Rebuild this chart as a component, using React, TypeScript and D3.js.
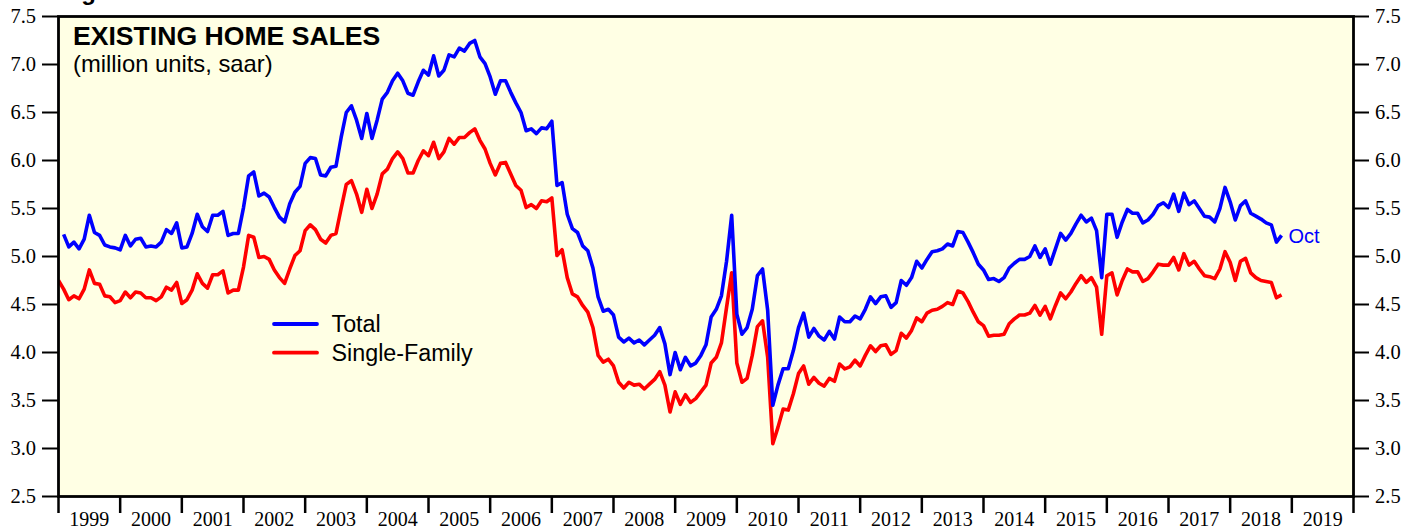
import React from "react";
import * as d3 from "d3";

// ---------- DATA ----------
// Existing home sales, million units, saar. Monthly, Jan 1999 .. Oct 2018
const totalSales: number[] = [
  5.23, 5.10, 5.15, 5.08, 5.18, 5.43, 5.25, 5.22, 5.12, 5.10, 5.09, 5.07, // 1999
  5.22, 5.11, 5.18, 5.19, 5.10, 5.11, 5.10, 5.15, 5.28, 5.24, 5.35, 5.09, // 2000
  5.10, 5.24, 5.44, 5.31, 5.26, 5.43, 5.43, 5.47, 5.22, 5.24, 5.24, 5.51, // 2001
  5.84, 5.88, 5.63, 5.66, 5.62, 5.51, 5.41, 5.36, 5.55, 5.67, 5.73, 5.97, // 2002
  6.03, 6.02, 5.85, 5.84, 5.93, 5.94, 6.24, 6.50, 6.57, 6.42, 6.23, 6.49, // 2003
  6.23, 6.42, 6.64, 6.71, 6.83, 6.91, 6.83, 6.70, 6.68, 6.82, 6.94, 6.89, // 2004
  7.09, 6.88, 6.94, 7.10, 7.08, 7.17, 7.14, 7.22, 7.25, 7.08, 7.01, 6.87, // 2005
  6.69, 6.83, 6.83, 6.71, 6.60, 6.50, 6.31, 6.33, 6.28, 6.34, 6.33, 6.41, // 2006
  5.74, 5.77, 5.44, 5.29, 5.25, 5.11, 5.06, 4.88, 4.58, 4.43, 4.45, 4.39, // 2007
  4.16, 4.11, 4.15, 4.10, 4.13, 4.08, 4.13, 4.18, 4.26, 4.09, 3.77, 4.00, // 2008
  3.82, 3.95, 3.86, 3.89, 3.97, 4.08, 4.37, 4.45, 4.59, 4.95, 5.43, 4.40, // 2009
  4.19, 4.26, 4.45, 4.80, 4.87, 4.44, 3.45, 3.66, 3.83, 3.83, 4.02, 4.26, // 2010
  4.41, 4.16, 4.25, 4.17, 4.13, 4.22, 4.14, 4.37, 4.32, 4.32, 4.38, 4.35, // 2011
  4.45, 4.58, 4.51, 4.58, 4.59, 4.47, 4.52, 4.75, 4.70, 4.78, 4.95, 4.88, // 2012
  4.97, 5.05, 5.06, 5.08, 5.13, 5.11, 5.26, 5.25, 5.15, 5.04, 4.92, 4.86, // 2013
  4.76, 4.77, 4.74, 4.78, 4.88, 4.93, 4.97, 4.97, 5.00, 5.11, 4.99, 5.08, // 2014
  4.92, 5.08, 5.24, 5.17, 5.24, 5.34, 5.43, 5.36, 5.40, 5.27, 4.78, 5.44, // 2015
  5.44, 5.20, 5.36, 5.49, 5.45, 5.45, 5.35, 5.38, 5.44, 5.53, 5.56, 5.51, // 2016
  5.65, 5.47, 5.66, 5.54, 5.58, 5.50, 5.42, 5.41, 5.36, 5.50, 5.72, 5.57, // 2017
  5.38, 5.53, 5.58, 5.45, 5.42, 5.39, 5.35, 5.33, 5.15, 5.22,             // 2018
];

// Single-family, monthly, Dec 1998 .. Oct 2018
const singleFamily: number[] = [
  4.75, // Dec 1998
  4.66, 4.55, 4.59, 4.56, 4.66, 4.86, 4.72, 4.71, 4.59, 4.58, 4.52, 4.54, // 1999
  4.63, 4.57, 4.63, 4.62, 4.57, 4.57, 4.54, 4.58, 4.68, 4.65, 4.73, 4.51, // 2000
  4.55, 4.65, 4.82, 4.72, 4.67, 4.81, 4.81, 4.85, 4.62, 4.65, 4.65, 4.89, // 2001
  5.22, 5.20, 4.99, 5.00, 4.97, 4.86, 4.78, 4.72, 4.87, 5.01, 5.06, 5.27, // 2002
  5.33, 5.28, 5.18, 5.14, 5.22, 5.24, 5.50, 5.75, 5.79, 5.65, 5.46, 5.70, // 2003
  5.50, 5.65, 5.86, 5.91, 6.02, 6.09, 6.02, 5.87, 5.87, 6.00, 6.10, 6.05, // 2004
  6.19, 6.02, 6.09, 6.23, 6.17, 6.24, 6.24, 6.29, 6.33, 6.21, 6.12, 5.97, // 2005
  5.85, 5.97, 5.98, 5.86, 5.74, 5.69, 5.51, 5.54, 5.50, 5.58, 5.57, 5.61, // 2006
  5.01, 5.07, 4.78, 4.61, 4.58, 4.49, 4.42, 4.26, 3.97, 3.90, 3.93, 3.86, // 2007
  3.69, 3.63, 3.69, 3.66, 3.67, 3.62, 3.67, 3.72, 3.80, 3.66, 3.38, 3.59, // 2008
  3.46, 3.56, 3.48, 3.52, 3.59, 3.66, 3.89, 3.95, 4.10, 4.47, 4.83, 3.89, // 2009
  3.69, 3.73, 3.97, 4.27, 4.33, 3.95, 3.05, 3.22, 3.41, 3.40, 3.57, 3.78, // 2010
  3.86, 3.67, 3.74, 3.68, 3.65, 3.73, 3.70, 3.88, 3.83, 3.85, 3.92, 3.86, // 2011
  3.97, 4.07, 4.01, 4.07, 4.08, 3.98, 4.02, 4.20, 4.15, 4.23, 4.36, 4.32, // 2012
  4.41, 4.44, 4.45, 4.48, 4.52, 4.50, 4.64, 4.62, 4.53, 4.42, 4.32, 4.28, // 2013
  4.17, 4.18, 4.18, 4.19, 4.30, 4.35, 4.39, 4.39, 4.41, 4.49, 4.39, 4.48, // 2014
  4.35, 4.49, 4.62, 4.56, 4.63, 4.72, 4.80, 4.73, 4.78, 4.68, 4.19, 4.80, // 2015
  4.83, 4.60, 4.75, 4.87, 4.84, 4.84, 4.74, 4.77, 4.84, 4.92, 4.91, 4.91, // 2016
  4.99, 4.86, 5.03, 4.91, 4.95, 4.87, 4.80, 4.79, 4.77, 4.87, 5.05, 4.94, // 2017
  4.75, 4.95, 4.98, 4.83, 4.78, 4.75, 4.74, 4.73, 4.57, 4.60,             // 2018
];

const totalStart = 1999; // first point: Jan 1999
const singleStart = 1999 - 1 / 12; // first point: Dec 1998

const yearLabels: string[] = [
  "1999", "2000", "2001", "2002", "2003", "2004", "2005", "2006", "2007", "2008",
  "2009", "2010", "2011", "2012", "2013", "2014", "2015", "2016", "2017", "2018", "2019",
];
const yTicks: number[] = [2.5, 3.0, 3.5, 4.0, 4.5, 5.0, 5.5, 6.0, 6.5, 7.0, 7.5];

const seriesNames: string[] = ["Total", "Single-Family"];
const seriesColors: string[] = ["#0000ff", "#ff0000"];

// ---------- LAYOUT ----------
const W = 1419;
const H = 529;
const L = 58.5;
const R = 1353.5;
const T = 16.5;
const B = 496.5;

const SERIF = "'Liberation Serif', 'Times New Roman', serif";
const SANS = "'Liberation Sans', Arial, Helvetica, sans-serif";

export default function App() {
  const x = d3.scaleLinear().domain([1999, 2020]).range([L, R]);
  const y = d3.scaleLinear().domain([2.5, 7.5]).range([B, T]);

  // point for month index i is plotted at end of that month
  const totalPts = totalSales.map((v, i) => [totalStart + (i + 1) / 12, v] as [number, number]);
  const singlePts = singleFamily.map((v, i) => [singleStart + (i + 1) / 12, v] as [number, number]);

  const line = d3
    .line<[number, number]>()
    .x((d) => x(d[0]))
    .y((d) => y(d[1]));

  const yearEdges = d3.range(1999, 2021);
  const last = totalPts[totalPts.length - 1];

  return (
    <svg
      width={W}
      height={H}
      style={{ position: "absolute", left: 0, top: 0, background: "#ffffff" }}
    >
      {/* caption above the chart, cut off by the top edge as in the source image */}
      <text x={60} y={0} fontFamily={SANS} fontWeight="bold" fontSize={24} fill="#000">
        Figure 1.
      </text>

      {/* plot background */}
      <rect x={L} y={T} width={R - L} height={B - T} fill="#ffffe4" />

      <defs>
        <clipPath id="plotClip">
          <rect x={L} y={T} width={R - L} height={B - T} />
        </clipPath>
      </defs>

      {/* series */}
      <g clipPath="url(#plotClip)">
        <path d={line(singlePts) || ""} fill="none" stroke={seriesColors[1]} strokeWidth={3.6} strokeLinejoin="round" />
        <path d={line(totalPts) || ""} fill="none" stroke={seriesColors[0]} strokeWidth={3.6} strokeLinejoin="round" />
      </g>

      {/* Oct label */}
      <text x={x(last[0]) + 7} y={y(last[1]) + 8} fontFamily={SANS} fontSize={20} fill={seriesColors[0]}>
        Oct
      </text>

      {/* title */}
      <text x={73} y={45} fontFamily={SANS} fontWeight="bold" fontSize={26.6} fill="#000">
        EXISTING HOME SALES
      </text>
      <text x={73} y={72} fontFamily={SANS} fontSize={23.8} fill="#000">
        (million units, saar)
      </text>

      {/* legend */}
      {seriesNames.map((name, i) => (
        <g key={name}>
          <line
            x1={274}
            x2={317}
            y1={324 + i * 28.7}
            y2={324 + i * 28.7}
            stroke={seriesColors[i]}
            strokeWidth={3.8}
            strokeLinecap="round"
          />
          <text x={331.5} y={332.3 + i * 28.7} fontFamily={SANS} fontSize={23.3} fill="#000">
            {name}
          </text>
        </g>
      ))}

      {/* left and right axis ticks + labels */}
      {yTicks.map((t) => (
        <g key={"l" + t}>
          <line x1={42} x2={L} y1={y(t)} y2={y(t)} stroke="#000" strokeWidth={2} />
          <text
            x={36}
            y={y(t)}
            dy="0.33em"
            textAnchor="end"
            fontFamily={SERIF}
            fontSize={20.5}
            fill="#000"
          >
            {t.toFixed(1)}
          </text>
          <line x1={R} x2={1369} y1={y(t)} y2={y(t)} stroke="#000" strokeWidth={2} />
          <text x={1375} y={y(t)} dy="0.33em" textAnchor="start" fontFamily={SERIF} fontSize={20.5} fill="#000">
            {t.toFixed(1)}
          </text>
        </g>
      ))}

      {/* bottom axis: year ticks and labels */}
      {yearEdges.map((yr) => (
        <line key={"t" + yr} x1={x(yr)} x2={x(yr)} y1={B} y2={513} stroke="#000" strokeWidth={2.5} />
      ))}
      {yearLabels.map((lab, i) => (
        <text
          key={"y" + lab}
          x={x(1999 + i + 0.5)}
          y={526}
          textAnchor="middle"
          fontFamily={SERIF}
          fontSize={20}
          fill="#000"
        >
          {lab}
        </text>
      ))}

      {/* frame */}
      <rect x={L} y={T} width={R - L} height={B - T} fill="none" stroke="#000" strokeWidth={2.8} />
    </svg>
  );
}
